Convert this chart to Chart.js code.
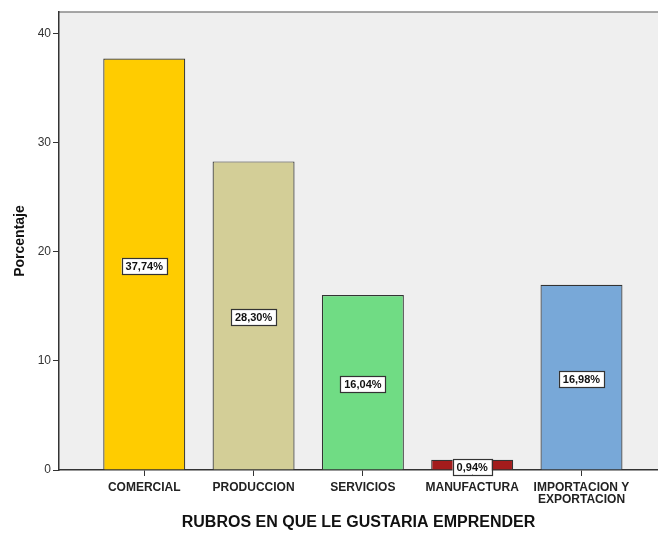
<!DOCTYPE html>
<html>
<head>
<meta charset="utf-8">
<script src="https://cdn.jsdelivr.net/npm/chart.js@4"></script>
<style>
  html, body { margin: 0; padding: 0; background: #fff; }
  #wrap { width: 658px; height: 533px; }
</style>
</head>
<body>
<div id="wrap"><canvas id="rubros" width="658" height="533"></canvas></div>
<script>
const categorias = ['COMERCIAL', 'PRODUCCION', 'SERVICIOS', 'MANUFACTURA', ['IMPORTACION Y', 'EXPORTACION']];
const porcentajes = [37.74, 28.30, 16.04, 0.94, 16.98];
const colores = ['#ffcc00', '#d3ce97', '#70dc84', '#a31c1c', '#78a8d8'];
const ticksY = [0, 10, 20, 30, 40];

const fondoPlot = {
    id: 'fondoPlot',
    beforeDraw(chart) {
        const { ctx, chartArea: a } = chart;
        ctx.save();
        ctx.fillStyle = '#efefef';
        ctx.fillRect(a.left, a.top, a.right - a.left, a.bottom - a.top);
        ctx.strokeStyle = '#8a8a8a';
        ctx.lineWidth = 1.5;
        ctx.beginPath();
        ctx.moveTo(a.left, a.top);
        ctx.lineTo(a.right, a.top);
        ctx.stroke();
        ctx.restore();
    }
};

const etiquetas = {
    id: 'etiquetas',
    afterDatasetsDraw(chart) {
        const ctx = chart.ctx;
        const meta = chart.getDatasetMeta(0);
        ctx.save();
        ctx.font = 'bold 11px "Liberation Sans", Arial, sans-serif';
        ctx.textAlign = 'center';
        ctx.textBaseline = 'middle';
        meta.data.forEach((bar, i) => {
            const txt = porcentajes[i].toFixed(2).replace('.', ',') + '%';
            const cy = (bar.y + bar.base) / 2 + 2;
            const w = ctx.measureText(txt).width + 8;
            const h = 16;
            ctx.fillStyle = '#ffffff';
            ctx.fillRect(bar.x - w / 2, cy - h / 2, w, h);
            ctx.strokeStyle = '#333';
            ctx.lineWidth = 1.2;
            ctx.strokeRect(Math.round(bar.x - w / 2) + 0.5, Math.round(cy - h / 2) + 0.5, Math.round(w), h);
            ctx.fillStyle = '#111';
            ctx.fillText(txt, bar.x, cy + 1);
        });
        ctx.restore();
    }
};

new Chart(document.getElementById('rubros'), {
    type: 'bar',
    data: {
        datasets: [{
            data: porcentajes.map((v, i) => ({ x: i, y: v })),
            backgroundColor: colores,
            borderColor: '#333',
            borderWidth: 1.2,
            barPercentage: 0.75,
            categoryPercentage: 1
        }]
    },
    options: {
        responsive: false,
        animation: false,
        devicePixelRatio: 1,
        layout: { padding: { top: 12, left: 0, right: 0, bottom: 0 } },
        plugins: {
            legend: { display: false },
            tooltip: { enabled: false }
        },
        scales: {
            x: {
                type: 'linear',
                offset: false,
                min: -0.78,
                max: 4.70,
                afterBuildTicks: scale => { scale.ticks = categorias.map((c, i) => ({ value: i })); },
                afterFit: scale => { scale.height = 63; },
                ticks: {
                    autoSkip: false,
                    maxRotation: 0,
                    padding: 6,
                    color: '#222',
                    font: { family: '"Liberation Sans", Arial, sans-serif', size: 12, weight: 'bold', lineHeight: 1.0 },
                    callback: (v) => categorias[v]
                },
                grid: { offset: false, drawOnChartArea: false, tickLength: 6, color: '#333' },
                border: { color: '#333', width: 1.5 },
                title: {
                    display: true,
                    text: 'RUBROS EN QUE LE GUSTARIA EMPRENDER',
                    color: '#111',
                    font: { family: '"Liberation Sans", Arial, sans-serif', size: 16, weight: 'bold' },
                    padding: { top: 0, bottom: 1 }
                }
            },
            y: {
                min: 0,
                max: 42,
                afterBuildTicks: scale => { scale.ticks = ticksY.map(v => ({ value: v })); },
                afterFit: scale => { scale.width = 59; },
                ticks: {
                    padding: 2,
                    color: '#333',
                    font: { family: '"Liberation Sans", Arial, sans-serif', size: 12 }
                },
                grid: { drawOnChartArea: false, tickLength: 6, color: '#333' },
                border: { color: '#333', width: 1.5 },
                title: {
                    display: true,
                    text: 'Porcentaje',
                    color: '#111',
                    font: { family: '"Liberation Sans", Arial, sans-serif', size: 14, weight: 'bold' },
                    padding: { top: 12, bottom: 0 }
                }
            }
        }
    },
    plugins: [fondoPlot, etiquetas]
});
</script>
</body>
</html>
